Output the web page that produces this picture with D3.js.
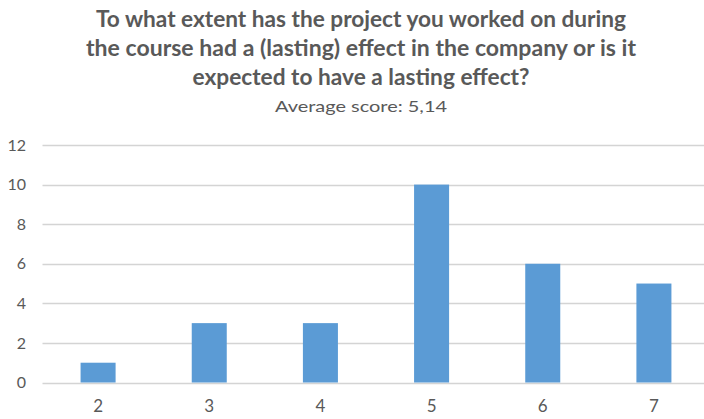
<!DOCTYPE html>
<html>
<head>
<meta charset="utf-8">
<script src="https://cdn.jsdelivr.net/npm/d3@7"></script>
<style>
  html, body { margin: 0; padding: 0; background: #ffffff; }
  svg { display: block; }
  text { font-family: Lato, "Open Sans", "DejaVu Sans", sans-serif; fill: #595959; }
</style>
</head>
<body>
<svg id="chart" width="704" height="419"></svg>
<script>
// Survey responses: score on the scale vs. number of respondents
const scores = ["2", "3", "4", "5", "6", "7"];
const counts = [1, 3, 3, 10, 6, 5];
const yTicks = [0, 2, 4, 6, 8, 10, 12];
const titleLines = [
  "To what extent has the project you worked on during",
  "the course had a (lasting) effect in the company or is it",
  "expected to have a lasting effect?"
];
const subtitle = "Average score: 5,14";

const W = 704, H = 419;
const svg = d3.select("#chart");

const plot = { left: 42.5, right: 709.5, top: 145, bottom: 382.5 };

const x = d3.scaleBand()
  .domain(scores)
  .range([plot.left, plot.right])
  .paddingInner(0.685)
  .paddingOuter(0.3425);

const y = d3.scaleLinear()
  .domain([0, 12])
  .range([plot.bottom, plot.top]);

// Title block
const titleCx = 361;
const titleBaselines = [27, 56, 85];
const titleWidths = [530, 550, 337];
svg.append("g").selectAll("text")
  .data(titleLines)
  .join("text")
  .attr("x", titleCx)
  .attr("y", (d, i) => titleBaselines[i])
  .attr("text-anchor", "middle")
  .attr("font-size", 22)
  .attr("font-weight", "bold")
  .attr("textLength", (d, i) => titleWidths[i])
  .attr("lengthAdjust", "spacingAndGlyphs")
  .text(d => d);

svg.append("text")
  .attr("x", titleCx)
  .attr("y", 112)
  .attr("text-anchor", "middle")
  .attr("font-size", 16)
  .attr("textLength", 172)
  .attr("lengthAdjust", "spacingAndGlyphs")
  .text(subtitle);

// Horizontal gridlines
svg.append("g")
  .selectAll("line")
  .data(yTicks)
  .join("line")
  .attr("x1", plot.left)
  .attr("x2", W)
  .attr("y1", d => Math.round(y(d)) + 0.5)
  .attr("y2", d => Math.round(y(d)) + 0.5)
  .attr("stroke", "#d4d4d4")
  .attr("stroke-width", 1.5);

// Y axis labels
const yAxis = d3.axisLeft(y).tickValues(yTicks).tickSize(0).tickPadding(0);
const gy = svg.append("g")
  .attr("transform", `translate(26,0)`)
  .call(yAxis);
gy.select(".domain").remove();
gy.selectAll("text")
  .attr("font-size", 16)
  .attr("fill", "#595959")
  .attr("font-family", "Lato, 'Open Sans', sans-serif");

// Bars
svg.append("g")
  .selectAll("rect")
  .data(scores.map((s, i) => ({ s, v: counts[i] })))
  .join("rect")
  .attr("x", d => x(d.s))
  .attr("y", d => y(d.v))
  .attr("width", x.bandwidth())
  .attr("height", d => y(0) - y(d.v))
  .attr("fill", "#5b9bd5");

// X axis labels
const xAxis = d3.axisBottom(x).tickSize(0).tickPadding(0);
const gx = svg.append("g")
  .attr("transform", `translate(0,400)`)
  .call(xAxis);
gx.select(".domain").remove();
gx.selectAll("text")
  .attr("font-size", 17)
  .attr("fill", "#595959")
  .attr("font-family", "Lato, 'Open Sans', sans-serif");
</script>
</body>
</html>
